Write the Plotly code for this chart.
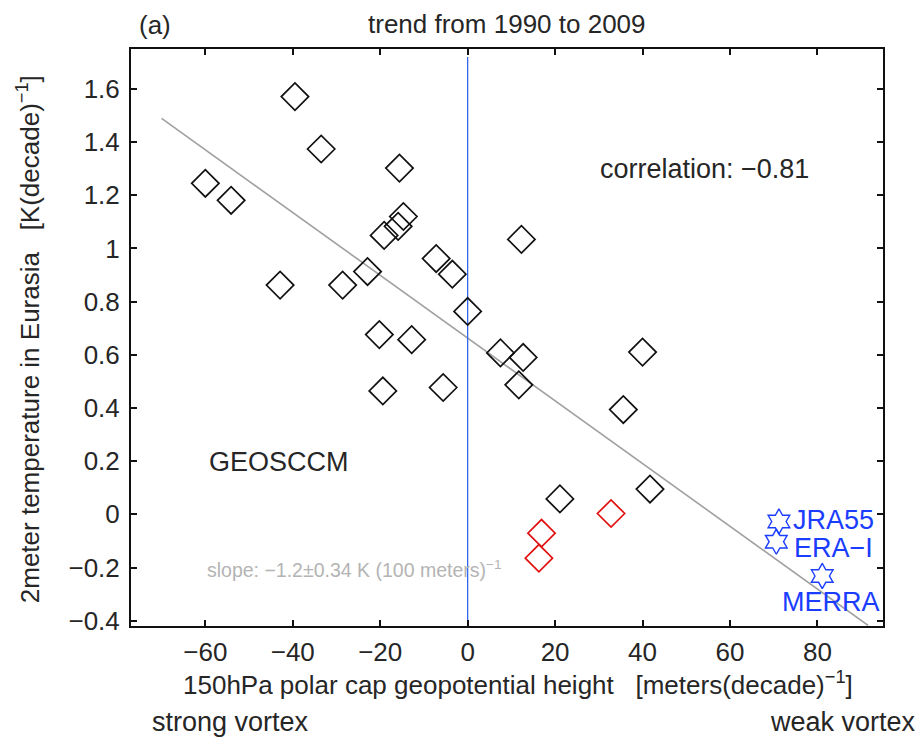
import plotly.graph_objects as go

# GEOSCCM ensemble members (black) : x = 150hPa polar cap gph trend, y = 2m temperature trend
black_x = [-60.0, -54.1, -39.5, -33.5, -15.6, -14.7, -15.9, -19.1, -7.2, -3.5, -22.9, -42.9,
           -28.6, -20.2, -12.8, -19.4, -5.6, 0.0, 7.5, 12.3, 12.7, 11.7, 40.0, 35.6, 21.1, 41.7]
black_y = [1.245, 1.181, 1.571, 1.374, 1.302, 1.12, 1.083, 1.049, 0.962, 0.903, 0.913, 0.862,
           0.862, 0.676, 0.657, 0.464, 0.477, 0.763, 0.607, 1.034, 0.59, 0.487, 0.61, 0.394, 0.058, 0.095]

# red members
red_x = [16.9, 16.3, 32.8]
red_y = [-0.071, -0.165, 0.003]

# reanalyses
rean_names = ["JRA55", "ERA\u2212I", "MERRA"]
rean_x = [71.2, 70.6, 81.1]
rean_y = [-0.027, -0.103, -0.232]

# regression line
slope = -0.0118
intercept = 0.663
line_x = [-70.0, 91.6]
line_y = [intercept + slope * v for v in line_x]

# zero line
zero_x = [0, 0]
zero_y = [-0.4, 1.72]

x_ticks = [-60, -40, -20, 0, 20, 40, 60, 80]
y_ticks = [-0.4, -0.2, 0, 0.2, 0.4, 0.6, 0.8, 1, 1.2, 1.4, 1.6]
y_ticktext = ["\u22120.4", "\u22120.2", "0", "0.2", "0.4", "0.6", "0.8", "1", "1.2", "1.4", "1.6"]

FONT = "Liberation Sans"
TXT = "#262626"
BLUE = "#1a3dff"

fig = go.Figure()
fig.add_trace(go.Scatter(x=line_x, y=line_y, mode="lines",
                         line=dict(color="#a0a0a0", width=1.6), hoverinfo="skip"))
fig.add_trace(go.Scatter(x=zero_x, y=zero_y, mode="lines",
                         line=dict(color="#3366ee", width=1.3), hoverinfo="skip"))
fig.add_trace(go.Scatter(x=black_x, y=black_y, mode="markers",
                         marker=dict(symbol="diamond-open", size=21, color="#111111",
                                     line=dict(width=1.7, color="#111111"))))
fig.add_trace(go.Scatter(x=red_x, y=red_y, mode="markers",
                         marker=dict(symbol="diamond-open", size=21, color="#e01010",
                                     line=dict(width=1.7, color="#e01010"))))
fig.add_trace(go.Scatter(x=rean_x, y=rean_y, mode="markers",
                         marker=dict(symbol="hexagram-open", size=19, color=BLUE,
                                     line=dict(width=1.4, color=BLUE))))

ann = []
def add(text, x, y, xref="x", yref="y", size=27, color=TXT, xanchor="left", yanchor="middle", angle=0):
    ann.append(dict(text=text, x=x, y=y, xref=xref, yref=yref, showarrow=False,
                    font=dict(family=FONT, size=size, color=color),
                    xanchor=xanchor, yanchor=yanchor, textangle=angle))

add("(a)", 0.008, 1.0416, "paper", "paper", size=26)
add("trend from 1990 to 2009", 0.5, 1.043, "paper", "paper", size=26, xanchor="center")
add("correlation: \u22120.81", 29.8, 1.30)
add("GEOSCCM", -59.6, 0.197)
add("slope: \u22121.2\u00b10.34 K (100 meters)<sup>\u22121</sup>", -60.0, -0.205, size=19.5, color="#b4b4b4")
add(rean_names[0], 74.0, -0.022, size=27, color=BLUE)
add(rean_names[1], 74.2, -0.128, size=27, color=BLUE)
add(rean_names[2], 83.0, -0.33, size=27, color=BLUE, xanchor="center")
add("150hPa polar cap geopotential height   [meters(decade)<sup>\u22121</sup>]",
    0.514, -0.0988, "paper", "paper", size=26, xanchor="center")
add("2meter temperature in Eurasia   [K(decade)<sup>\u22121</sup>]",
    -0.137, 0.497, "paper", "paper", size=26, xanchor="center", angle=-90)
add("strong vortex", 0.025, -0.166, "paper", "paper")
add("weak vortex", 1.047, -0.166, "paper", "paper", xanchor="right")

axis_common = dict(showgrid=False, zeroline=False, showline=True, linecolor="#111111",
                   linewidth=2, mirror="ticks", ticks="inside", ticklen=6, tickwidth=1.5,
                   tickcolor="#111111", tickfont=dict(family=FONT, size=26, color=TXT))

# the page adds an 8px body margin, so the figure is offset by 8px
fig.update_layout(
    width=916, height=730,
    margin=dict(l=123, r=41, t=41, b=112),
    paper_bgcolor="white", plot_bgcolor="white",
    showlegend=False,
    annotations=ann,
    xaxis=dict(range=[-77, 95], tickvals=x_ticks, ticklabelstandoff=2, **axis_common),
    yaxis=dict(range=[-0.42, 1.75], tickvals=y_ticks, ticktext=y_ticktext,
               ticklabelstandoff=4, **axis_common),
)

fig.write_html("out.html")
